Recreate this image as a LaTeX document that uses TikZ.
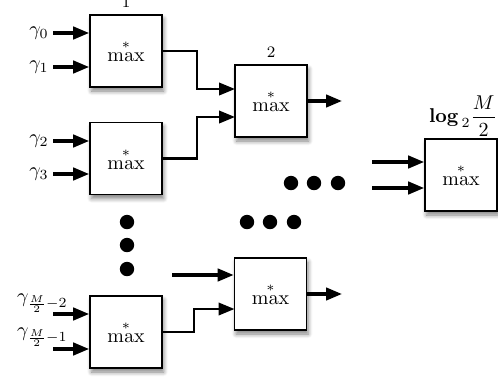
\documentclass[tikz,border=0pt]{standalone}
\usetikzlibrary{arrows.meta,shadows.blur}
\begin{document}
\begin{tikzpicture}[x=0.5pt,y=-0.5pt,
  maxbox/.style={draw, line width=0.85pt, fill=white, minimum width=36pt,
    minimum height=36pt, inner sep=0pt,
    blur shadow={shadow xshift=0.8pt, shadow yshift=-2pt,
      shadow blur radius=2.2pt, shadow blur steps=6, shadow opacity=50}},
  wire/.style={line width=1.6pt, -{Triangle[length=8pt,width=6.2pt]}},
  link/.style={wire, line width=1.3pt},
  idx/.style={font=\footnotesize, anchor=south, inner sep=0pt, yshift=3pt},
  lab/.style={anchor=east, inner sep=0pt},
  dot/.style={fill=black}]
\useasboundingbox (0,0) rectangle (498,381);
\newcommand{\mx}{$\stackrel{*}{\max}$}

% first stage
\node[maxbox] (b1) at (126,51) {\mx};
\node[maxbox] (b2) at (126,158.5) {\mx};
\node[maxbox] (b3) at (126,332) {\mx};
% second stage
\node[maxbox] (mA) at (271,101) {\mx};
\node[maxbox] (mB) at (270.5,294) {\mx};
% last stage
\node[maxbox] (R) at (461,175) {\mx};

% stage numbers
\node[idx] (n1) at (b1.north) {1};
\node[idx] (n2) at (mA.north) {2};
\node[inner sep=0pt] (nL) at (463,116) {$\mathbf{log}_{\,2}{\displaystyle\frac{M}{2}}$};

% inputs
\node[lab] (g0) at (49,33) {$\gamma_0$};
\node[lab] (g1) at (49,67) {$\gamma_1$};
\node[lab] (g2) at (49,141) {$\gamma_2$};
\node[lab] (g3) at (49,174) {$\gamma_3$};
\node[lab] (gm2) at (68,303) {$\gamma_{\frac{M}{2}-2}$};
\node[lab] (gm1) at (68,337) {$\gamma_{\frac{M}{2}-1}$};

\coordinate (s0) at (53,33);
\coordinate (s1) at (53,67);
\coordinate (s2) at (53,141);
\coordinate (s3) at (53,174);
\coordinate (s4) at (53,314);
\coordinate (s5) at (53,349);
\foreach \s/\b in {s0/b1,s1/b1,s2/b2,s3/b2,s4/b3,s5/b3}
  \draw[wire] (\s) -- (\s -| \b.west);

% links between stages
\coordinate (a1) at (235,89);
\coordinate (a2) at (235,117);
\coordinate (c2) at (234.5,309);
\draw[link] (b1.east) -- ++(34,0) |- (a1);
\draw[link] (b2.east) -- ++(34,0) |- (a2);
\draw[link] (b3.east) -- ++(31,0) |- (c2);

\coordinate (c1) at (172,275);
\draw[wire] (c1) -- (c1 -| mB.west);

% outputs of the second stage
\coordinate (oA) at (342,0);
\draw[wire] (mA.east) -- (mA.east -| oA);
\draw[wire] (mB.east) -- (mB.east -| oA);

% inputs of the last stage
\coordinate (r1) at (372,162);
\coordinate (r2) at (372,188);
\draw[wire] (r1) -- (r1 -| R.west);
\draw[wire] (r2) -- (r2 -| R.west);

% ellipses
\foreach \x in {291,314,338} \fill[dot] (\x,183) circle[radius=3.6pt];
\foreach \x in {247,270,294} \fill[dot] (\x,222) circle[radius=3.6pt];
\foreach \y in {222,245,269} \fill[dot] (127,\y) circle[radius=3.6pt];
\end{tikzpicture}
\end{document}
